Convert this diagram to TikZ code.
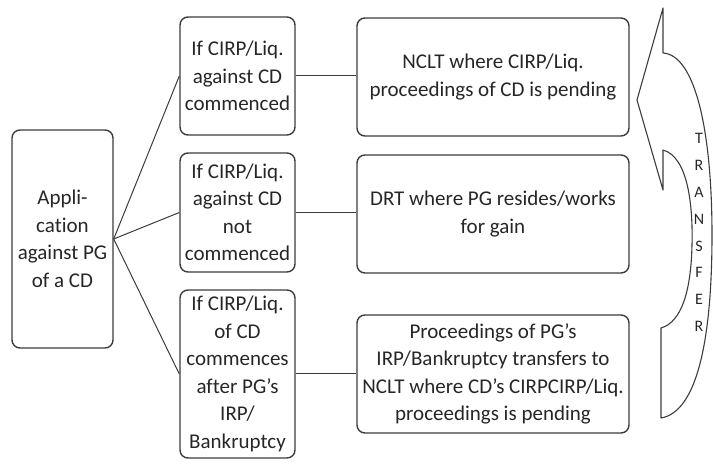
\documentclass[tikz,border=0pt]{standalone}
\usepackage{fontspec}
\setmainfont[Ligatures=NoCommon]{Carlito}
\definecolor{edge}{HTML}{3C3C3C}
\definecolor{ink}{HTML}{262626}
\begin{document}
\begin{tikzpicture}[x=1pt,y=-1pt,
  box/.style={draw=edge,line width=1.4pt,rounded corners=8pt,inner sep=0pt,
    align=center,text=ink,font=\fontsize{21}{27.5}\selectfont},
  link/.style={draw=edge,line width=1pt},
  arrowshape/.style={draw=edge,line width=1.1pt,line join=round}]
\useasboundingbox (0,0) rectangle (713,470);
\node[box,minimum width=101pt,minimum height=218pt] (app) at (62.5,239) {Appli-\\cation\\against PG\\of a CD};
\node[box,minimum width=115pt,minimum height=118pt] (m1) at (237.5,76) {If CIRP/Liq.\\against CD\\commenced};
\node[box,minimum width=115pt,minimum height=119pt] (m2) at (237.5,212.5) {If CIRP/Liq.\\against CD\\not\\commenced};
\node[box,minimum width=115pt,minimum height=168pt] (m3) at (237.5,374) {If CIRP/Liq.\\of CD\\commences\\after PG's\\IRP/\\Bankruptcy};
\node[box,minimum width=272pt,minimum height=118pt] (r1) at (493,77) {NCLT where CIRP/Liq.\\proceedings of CD is pending};
\node[box,minimum width=272pt,minimum height=118pt] (r2) at (493,214) {DRT where PG resides/works\\for gain};
\node[box,minimum width=272pt,minimum height=118pt] (r3) at (493,374) {Proceedings of PG's\\IRP/Bankruptcy transfers to\\NCLT where CD's CIRPCIRP/Liq.\\proceedings is pending};
\draw[link] (app.east) -- (m1.west);
\draw[link] (app.east) -- (m2.west);
\draw[link] (app.east) -- (m3.west);
\draw[link] (m1.east) -- (m1.east -| r1.west);
\draw[link] (m2.east) -- (m2.east -| r2.west);
\draw[link] (m3.east) -- (m3.east -| r3.west);
\draw[arrowshape] (663,8) -- (637,100) -- (663,190) -- (663,150)
  .. controls (688,157) and (693,205) .. (692,245)
  .. controls (691,290) and (682,322) .. (661,328) -- (661,418)
  .. controls (697,412) and (712,340) .. (712,235)
  .. controls (712,130) and (695,55) .. (663,53) -- cycle;
\node[align=center,text=ink,inner sep=0pt,font=\fontsize{16}{26.9}\selectfont] (tr) at (699,232.5) {T\\R\\A\\N\\S\\F\\E\\R};
\end{tikzpicture}
\end{document}
